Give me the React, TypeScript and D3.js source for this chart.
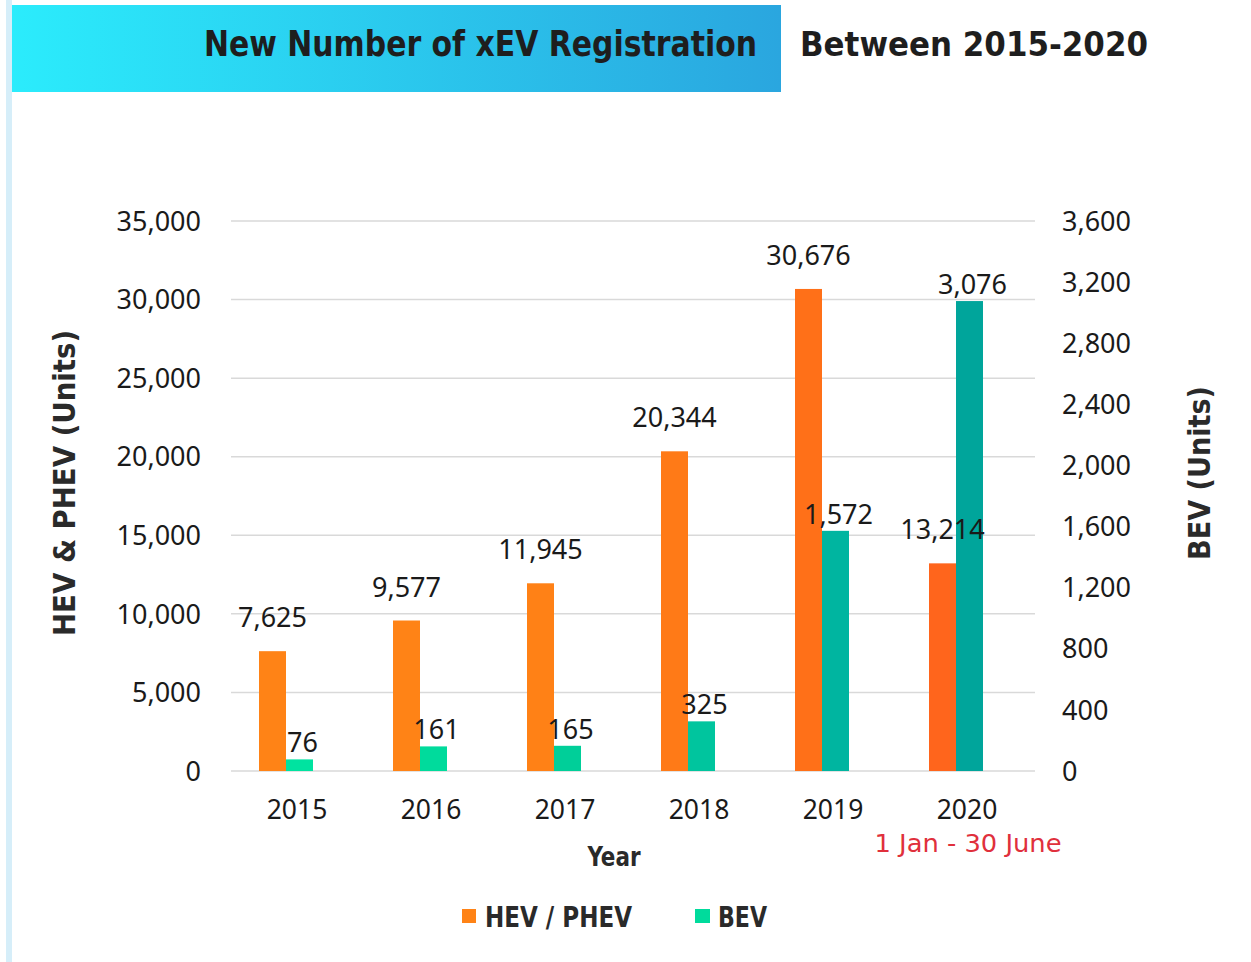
import React from 'react';
import * as d3 from 'd3';

const years = ['2015', '2016', '2017', '2018', '2019', '2020'];
const hevValues = [7625, 9577, 11945, 20344, 30676, 13214];
const bevValues = [76, 161, 165, 325, 1572, 3076];
const leftTicks = [0, 5000, 10000, 15000, 20000, 25000, 30000, 35000];
const rightTicks = [0, 400, 800, 1200, 1600, 2000, 2400, 2800, 3200, 3600];

// per-bar shades, the source fades the colours across the years
const hevColors = ['#FF8316', '#FF8316', '#FF8116', '#FF7A17', '#FF7018', '#FF651C'];
const bevColors = ['#00E3A0', '#00DB9C', '#00CF99', '#00C59E', '#00B5A0', '#00A59B'];

const W = 1251;
const H = 962;
const plot = { left: 231, right: 1035, top: 221, bottom: 771 };

const fmt = d3.format(',');
const tickFont = "'Noto Sans', 'Open Sans', sans-serif";
const boldFont = "'DejaVu Sans Condensed', 'DejaVu Sans', sans-serif";

const App: React.FC = () => {
  const x = d3.scaleBand<string>().domain(years).range([plot.left, plot.right]).padding(0);
  const inner = d3.scaleBand<string>().domain(['hev', 'bev']).range([-39, 15]).padding(0);
  const yLeft = d3.scaleLinear().domain([0, 35000]).range([plot.bottom, plot.top]);
  const yRight = d3.scaleLinear().domain([0, 3600]).range([plot.bottom, plot.top]);

  const center = (yr: string) => (x(yr) || 0) + x.bandwidth() / 2;
  const bw = inner.bandwidth();

  return (
    <svg width={W} height={H} style={{ position: 'absolute', left: 0, top: 0, background: '#fff' }}>
      <defs>
        <linearGradient id="titleGrad" x1="0" x2="1" y1="0" y2="0">
          <stop offset="0%" stopColor="#2BECFC" />
          <stop offset="100%" stopColor="#2AA6DF" />
        </linearGradient>
      </defs>

      {/* side strip + title banner */}
      <rect x={6} y={0} width={6} height={H} fill="#D6EEF9" />
      <rect x={12} y={5} width={769} height={87} fill="url(#titleGrad)" />
      <text x={204} y={56} fontFamily={boldFont} fontWeight="bold" fontSize={35} fill="#1E1E1E"
        textLength={553} lengthAdjust="spacingAndGlyphs">New Number of xEV Registration</text>
      <text x={800} y={56} fontFamily="'DejaVu Sans', sans-serif" fontWeight="bold" fontSize={34} fill="#1E1E1E"
        textLength={348} lengthAdjust="spacingAndGlyphs">Between 2015-2020</text>

      {/* grid */}
      {leftTicks.map((t) => (
        <line key={'g' + t} x1={plot.left} x2={plot.right} y1={yLeft(t)} y2={yLeft(t)}
          stroke="#D9D9D9" strokeWidth={1.5} />
      ))}

      {/* left axis labels */}
      {leftTicks.map((t) => (
        <text key={'l' + t} x={201} y={yLeft(t)} dy="0.36em" textAnchor="end"
          fontFamily={tickFont} fontSize={27} fill="#1A1A1A">{fmt(t)}</text>
      ))}
      {/* right axis labels */}
      {rightTicks.map((t) => (
        <text key={'r' + t} x={1062} y={yRight(t)} dy="0.36em" textAnchor="start"
          fontFamily={tickFont} fontSize={27} fill="#1A1A1A">{fmt(t)}</text>
      ))}

      {/* bars */}
      {years.map((yr, i) => (
        <g key={'b' + yr}>
          <rect x={center(yr) + (inner('hev') || 0)} y={yLeft(hevValues[i])} width={bw}
            height={plot.bottom - yLeft(hevValues[i])} fill={hevColors[i]} />
          <rect x={center(yr) + (inner('bev') || 0)} y={yRight(bevValues[i])} width={bw}
            height={plot.bottom - yRight(bevValues[i])} fill={bevColors[i]} />
        </g>
      ))}

      {/* value labels */}
      {years.map((yr, i) => (
        <g key={'v' + yr} fontFamily={tickFont} fontSize={27} fill="#1A1A1A">
          <text x={center(yr) + (inner('hev') || 0) + bw / 2} y={yLeft(hevValues[i]) - 24} textAnchor="middle">
            {fmt(hevValues[i])}
          </text>
          <text x={center(yr) + (inner('bev') || 0) + bw / 2 + 3} y={yRight(bevValues[i]) - 7} textAnchor="middle">
            {fmt(bevValues[i])}
          </text>
        </g>
      ))}

      {/* x axis labels */}
      {years.map((yr) => (
        <text key={'x' + yr} x={center(yr) - 1} y={819} textAnchor="middle"
          fontFamily={tickFont} fontSize={26.5} fill="#1A1A1A">{yr}</text>
      ))}
      <text x={968} y={852} textAnchor="middle" fontFamily={boldFont} fontSize={25} fill="#E0303C"
        textLength={187} lengthAdjust="spacingAndGlyphs">1 Jan - 30 June</text>
      <text x={614} y={866} textAnchor="middle" fontFamily={boldFont} fontWeight="bold" fontSize={27} fill="#2A2A2A"
        textLength={53} lengthAdjust="spacingAndGlyphs">Year</text>

      {/* axis titles */}
      <text transform="translate(75,483) rotate(-90)" textAnchor="middle" fontFamily={boldFont}
        fontWeight="bold" fontSize={31} fill="#2A2A2A" textLength={306} lengthAdjust="spacingAndGlyphs">
        HEV &amp; PHEV (Units)
      </text>
      <text transform="translate(1210,473) rotate(-90)" textAnchor="middle" fontFamily={boldFont}
        fontWeight="bold" fontSize={31} fill="#2A2A2A" textLength={174} lengthAdjust="spacingAndGlyphs">
        BEV (Units)
      </text>

      {/* legend */}
      <rect x={462} y={909} width={14} height={14} fill={hevColors[0]} />
      <text x={485} y={927} fontFamily={boldFont} fontWeight="bold" fontSize={28} fill="#2A2A2A"
        textLength={147} lengthAdjust="spacingAndGlyphs">HEV / PHEV</text>
      <rect x={695} y={909} width={15} height={14} fill={bevColors[1]} />
      <text x={718} y={927} fontFamily={boldFont} fontWeight="bold" fontSize={28} fill="#2A2A2A"
        textLength={49} lengthAdjust="spacingAndGlyphs">BEV</text>
    </svg>
  );
};

export default App;
